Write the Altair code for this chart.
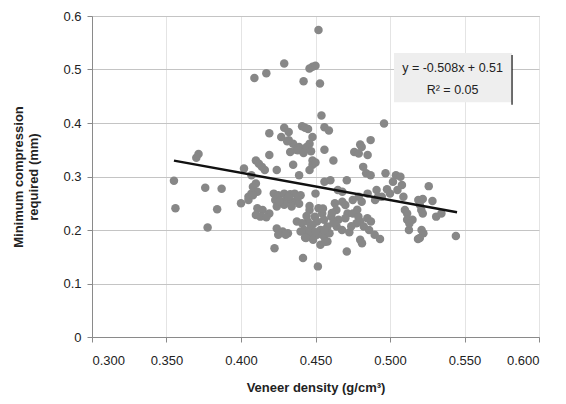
import altair as alt
import pandas as pd

# Veneer density (g/cm3) and minimum compression required (mm)
density = [
    0.452, 0.429, 0.417, 0.409, 0.446, 0.448, 0.450, 0.442, 0.453, 0.454,
    0.496, 0.419, 0.429, 0.432, 0.441, 0.443, 0.445, 0.456, 0.459, 0.448,
    0.427, 0.432, 0.435, 0.439, 0.437, 0.446, 0.444, 0.456, 0.433, 0.438,
    0.442, 0.487, 0.480, 0.481, 0.476, 0.479, 0.485, 0.419, 0.410, 0.412,
    0.448, 0.448, 0.435, 0.462, 0.3715, 0.370, 0.402, 0.414, 0.416, 0.424,
    0.439, 0.446, 0.482, 0.484, 0.487, 0.497, 0.504, 0.507, 0.355, 0.407,
    0.410, 0.456, 0.460, 0.471, 0.502, 0.508, 0.505, 0.465, 0.468, 0.376,
    0.387, 0.408, 0.411, 0.407, 0.405, 0.422, 0.425, 0.429, 0.433, 0.436,
    0.440, 0.423, 0.427, 0.430, 0.434, 0.4375, 0.424, 0.429, 0.434, 0.439,
    0.450, 0.526, 0.491, 0.498, 0.485, 0.479, 0.475, 0.481, 0.490, 0.4945,
    0.509, 0.519, 0.522, 0.5285, 0.520, 0.400, 0.405, 0.356, 0.384, 0.411,
    0.4145, 0.410, 0.413, 0.419, 0.463, 0.468, 0.464, 0.470, 0.4715, 0.510,
    0.5115, 0.521, 0.522, 0.531, 0.5345, 0.446, 0.452, 0.4545, 0.4496, 0.4557,
    0.4606, 0.4654, 0.4448, 0.451, 0.447, 0.4533, 0.458, 0.4642, 0.4678, 0.4375,
    0.441, 0.4424, 0.446, 0.451, 0.4557, 0.4594, 0.4484, 0.4533, 0.458, 0.4436,
    0.440, 0.4751, 0.4788, 0.480, 0.4848, 0.4872, 0.4775, 0.4824, 0.486, 0.5115,
    0.5151, 0.5127, 0.5212, 0.5224, 0.520, 0.424, 0.428, 0.4315, 0.425, 0.430,
    0.3776, 0.4727, 0.4897, 0.4933, 0.480, 0.4812, 0.5442, 0.5188, 0.4225, 0.471,
    0.4416, 0.4516, 0.431, 0.447, 0.450, 0.426, 0.432, 0.4385, 0.446, 0.455,
    0.461, 0.448, 0.456, 0.462, 0.450, 0.444, 0.470, 0.474, 0.478, 0.492,
    0.500, 0.513, 0.417, 0.408, 0.443, 0.4565,
]
compression = [
    0.574, 0.511, 0.493, 0.484, 0.502, 0.505, 0.507, 0.478, 0.474, 0.414,
    0.399, 0.381, 0.391, 0.383, 0.394, 0.391, 0.389, 0.392, 0.386, 0.374,
    0.374, 0.368, 0.361, 0.355, 0.350, 0.361, 0.355, 0.350, 0.346, 0.349,
    0.344, 0.368, 0.360, 0.355, 0.346, 0.343, 0.340, 0.340, 0.330, 0.324,
    0.330, 0.322, 0.322, 0.330, 0.342, 0.335, 0.315, 0.318, 0.312, 0.312,
    0.3025, 0.312, 0.318, 0.306, 0.3025, 0.306, 0.3025, 0.2995, 0.292, 0.3025,
    0.287, 0.290, 0.293, 0.293, 0.290, 0.284, 0.2746, 0.2746, 0.2715, 0.279,
    0.277, 0.281, 0.2715, 0.268, 0.262, 0.268, 0.265, 0.268, 0.267, 0.268,
    0.265, 0.256, 0.253, 0.256, 0.253, 0.256, 0.244, 0.247, 0.244, 0.249,
    0.268, 0.282, 0.2746, 0.276, 0.268, 0.262, 0.256, 0.253, 0.256, 0.262,
    0.262, 0.256, 0.258, 0.254, 0.247, 0.250, 0.256, 0.2405, 0.239, 0.2405,
    0.2374, 0.228, 0.225, 0.231, 0.250, 0.253, 0.2374, 0.2467, 0.231, 0.2374,
    0.231, 0.2374, 0.231, 0.225, 0.231, 0.2374, 0.2405, 0.231, 0.225, 0.219,
    0.225, 0.219, 0.216, 0.216, 0.2064, 0.200, 0.2064, 0.2064, 0.200, 0.216,
    0.2126, 0.200, 0.194, 0.191, 0.188, 0.194, 0.1816, 0.1723, 0.1785, 0.185,
    0.197, 0.231, 0.225, 0.216, 0.222, 0.216, 0.2126, 0.2064, 0.200, 0.219,
    0.219, 0.200, 0.200, 0.194, 0.185, 0.203, 0.197, 0.194, 0.191, 0.191,
    0.2046, 0.196, 0.191, 0.183, 0.1816, 0.1754, 0.189, 0.183, 0.166, 0.160,
    0.1475, 0.132, 0.366, 0.347, 0.326, 0.254, 0.262, 0.262, 0.245, 0.240,
    0.232, 0.210, 0.200, 0.213, 0.196, 0.226, 0.222, 0.207, 0.238, 0.262,
    0.268, 0.212, 0.224, 0.265, 0.186, 0.178,
]

# Linear trend: y = -0.508x + 0.51 over the data range
slope = -0.508
intercept = 0.51
trend_x = [0.355, 0.545]
eq_lines = ["y = -0.508x + 0.51", "R\u00b2 = 0.05"]

df = pd.DataFrame({"density": density, "compression": compression})
trend = pd.DataFrame({"density": trend_x,
                      "compression": [slope * v + intercept for v in trend_x]})

FONT = "Liberation Sans"
xscale = alt.Scale(domain=[0.3, 0.6], nice=False)
yscale = alt.Scale(domain=[0, 0.6], nice=False)

points = alt.Chart(df).mark_circle(size=72, color="#878787", opacity=1).encode(
    x=alt.X("density:Q", scale=xscale,
            axis=alt.Axis(title="Veneer density (g/cm\u00b3)", values=[0.3, 0.35, 0.4, 0.45, 0.5, 0.55, 0.6],
                          format=".3f", grid=True, gridColor="#e4e4e4", gridWidth=1,
                          domainColor="#8a8a8a", tickColor="#8a8a8a", tickSize=5,
                          labelFont=FONT, labelFontSize=13, labelColor="#222",
                          labelPadding=12, titleFont=FONT, titleFontSize=13,
                          titleFontWeight="bold", titleColor="#222", titlePadding=14)),
    y=alt.Y("compression:Q", scale=yscale,
            axis=alt.Axis(title=["Minimum compression", "required (mm)"],
                          values=[0, 0.1, 0.2, 0.3, 0.4, 0.5, 0.6],
                          format="~g", grid=True, gridColor="#c4c4c4", gridWidth=1,
                          domainColor="#8a8a8a", tickColor="#8a8a8a", tickSize=5,
                          labelFont=FONT, labelFontSize=13, labelColor="#222",
                          labelPadding=6, titleFont=FONT, titleFontSize=13,
                          titleFontWeight="bold", titleColor="#222", titlePadding=22,
                          titleLineHeight=15)),
)

line = alt.Chart(trend).mark_line(color="#111111", strokeWidth=2.5).encode(
    x=alt.X("density:Q", scale=xscale),
    y=alt.Y("compression:Q", scale=yscale),
)

box_df = pd.DataFrame({"x": [0.5027], "x2": [0.5819], "y": [0.439], "y2": [0.531]})
box = alt.Chart(box_df).mark_rect(color="#eeeeee").encode(
    x=alt.X("x:Q", scale=xscale), x2="x2:Q",
    y=alt.Y("y:Q", scale=yscale), y2="y2:Q",
)
edge_df = pd.DataFrame({"x": [0.5819], "y": [0.434], "y2": [0.527]})
edge = alt.Chart(edge_df).mark_rule(color="#111111", strokeWidth=1.2).encode(
    x=alt.X("x:Q", scale=xscale),
    y=alt.Y("y:Q", scale=yscale), y2="y2:Q",
)
text_df = pd.DataFrame({"x": [0.542, 0.542], "y": [0.503, 0.462], "t": eq_lines})
text = alt.Chart(text_df).mark_text(font=FONT, fontSize=12.5, color="#222",
                                    align="center", baseline="middle").encode(
    x=alt.X("x:Q", scale=xscale),
    y=alt.Y("y:Q", scale=yscale),
    text="t:N",
)

chart = alt.layer(box, edge, text, points, line).properties(
    width=447, height=321, autosize="none",
    padding={"left": 84, "top": 8, "right": 11, "bottom": 66},
    background="white",
).configure_view(stroke="#9a9a9a", strokeWidth=1)

chart.save("out.html", embed_options={"renderer": "svg", "actions": False})
